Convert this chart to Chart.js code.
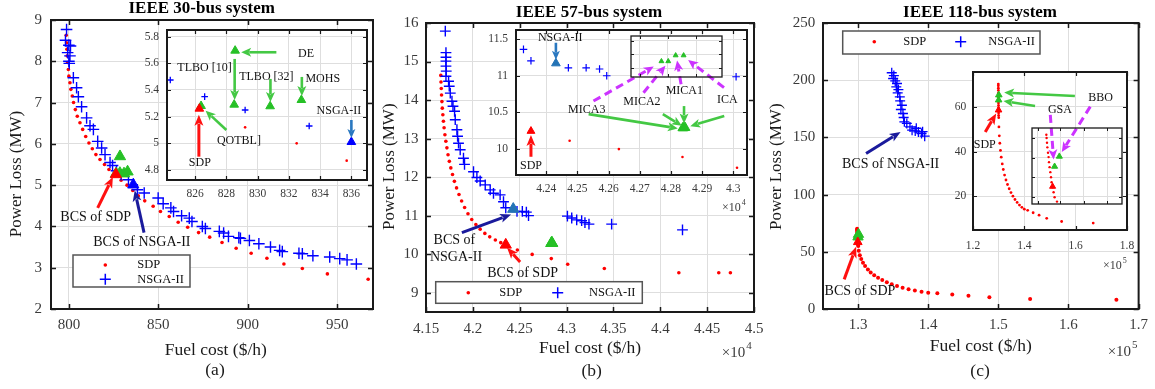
<!DOCTYPE html>
<html><head><meta charset="utf-8"><title>Pareto fronts - IEEE 30/57/118-bus</title>
<script src="https://cdn.jsdelivr.net/npm/chart.js@4.4.1/dist/chart.umd.min.js"></script>
<style>
html,body{margin:0;padding:0;background:#fff;}
#wrap{position:relative;width:1155px;height:389px;overflow:hidden;background:#fff;}
#wrap canvas{position:absolute;left:0;top:0;}
</style></head><body>
<div id="wrap">
<canvas id="aMain" width="1155" height="389"></canvas>
<canvas id="aInset" width="1155" height="389"></canvas>
<canvas id="bMain" width="1155" height="389"></canvas>
<canvas id="bInset" width="1155" height="389"></canvas>
<canvas id="bNest" width="1155" height="389"></canvas>
<canvas id="cMain" width="1155" height="389"></canvas>
<canvas id="cInset" width="1155" height="389"></canvas>
<canvas id="cNest" width="1155" height="389"></canvas>
</div>
<script>
// ================= DATA =================
const seriesNames = ['SDP', 'NSGA-II'];

// ---- (a) IEEE 30-bus ----
const aSdpCost = [798.5,798.7,798.9,799.1,799.3,799.7,800.0,800.6,801.1,801.9,802.6,803.6,804.7,806.2,807.7,809.4,811.2,813.1,815.1,817.4,819.9,822.4,829.2,832.5,835.7,838.8,842.4,847.1,851.2,856.1,861.1,866.4,872.5,878.7,885.6,893.5,901.9,910.7,920.2,930.5,944.5,967.3];
const aSdpLoss = [8.63,8.45,8.29,8.13,7.97,7.80,7.64,7.48,7.32,7.16,7.00,6.83,6.67,6.51,6.35,6.18,6.02,5.88,5.74,5.62,5.50,5.38,5.12,5.00,4.87,4.74,4.62,4.49,4.36,4.24,4.10,3.98,3.85,3.74,3.61,3.47,3.35,3.23,3.09,2.98,2.85,2.72];
const aNsgaCost = [798.7,798.1,800.0,799.3,800.6,800.9,800.0,800.2,802.5,804.3,805.3,807.1,809.9,811.8,813.7,816.1,818.3,820.2,823.0,824.41,826.61,829.2,833.3,838.3,842.1,849.9,852.7,857.0,858.5,863.0,867.3,868.8,874.6,876.3,884.1,886.5,889.2,895.0,895.9,900.9,906.2,912.7,917.8,919.3,928.6,930.5,936.4,945.8,951.4,955.5,960.7];
const aNsgaLoss = [8.77,8.51,8.39,8.21,8.13,8.37,8.00,7.95,7.60,7.36,7.14,6.90,6.63,6.44,6.35,6.06,5.90,5.74,5.55,5.475,5.35,5.25,5.13,4.89,4.81,4.69,4.55,4.45,4.36,4.26,4.20,4.12,4.00,3.95,3.88,3.84,3.76,3.73,3.71,3.66,3.58,3.50,3.42,3.39,3.35,3.34,3.29,3.26,3.22,3.19,3.09];
const aOtherNames = ['QOTBL', 'DE', 'TLBO [10]', 'TLBO [32]', 'MOHS'];
const aOtherCost = [826.38, 828.56, 828.5, 830.8, 832.8];
const aOtherLoss = [5.28, 5.695, 5.29, 5.278, 5.325];
const aBcsSdpCost = [826.27], aBcsSdpLoss = [5.26];
const aBcsNsgaCost = [836.0], aBcsNsgaLoss = [5.01];
const aXTicks = [800, 850, 900, 950], aYTicks = [2, 3, 4, 5, 6, 7, 8, 9];
const aInXTicks = [826, 828, 830, 832, 834, 836], aInYTicks = [4.8, 5.0, 5.2, 5.4, 5.6, 5.8];

// ---- (b) IEEE 57-bus ----
const bSdpCost = [41658,41660,41663,41666,41670,41674,41680,41686,41693,41702,41712,41723,41735,41749,41765,41783,41803,41826,41852,41880,41912,41948,41988,42032,42078,42128,42180,42240,42298,42475,42633,42837,43012,43403,44198,44624,44748];
const bSdpLoss = [14.64,14.47,14.30,14.13,13.96,13.79,13.62,13.45,13.28,13.10,12.93,12.76,12.58,12.41,12.24,12.07,11.89,11.72,11.55,11.38,11.21,11.05,10.90,10.77,10.65,10.54,10.45,10.37,10.30,10.109,9.995,9.886,9.74,9.63,9.52,9.52,9.52];
const bNsgaCost = [41706,41713,41713,41713,41713,41716,41713,41741,41748,41759,41777,41788,41805,41812,41830,41837,41847,41865,41900,41911,42007,42043,42078,42132,42185,42220,42291,42327,42351,42471,42528,42571,42594,43009,43055,43108,43161,43196,43239,43481,44237];
const bNsgaLoss = [15.79,15.23,15.11,15.01,14.88,14.75,14.62,14.49,14.36,14.18,13.97,13.84,13.71,13.49,13.23,13.06,12.88,12.71,12.49,12.33,12.14,11.99,11.90,11.80,11.67,11.58,11.54,11.363,11.206,11.110,11.110,11.093,11.001,10.987,10.94,10.89,10.87,10.82,10.78,10.78,10.63];
const bOtherNames = ['MICA3', 'MICA2', 'MICA1', 'ICA'];
const bOtherCost = [42837.7, 42840.1, 42842.7, 42845.5];
const bOtherLoss = [10.285, 10.285, 10.2893, 10.2893];
const bBcsSdpCost = [42351], bBcsSdpLoss = [10.242];
const bBcsNsgaCost = [42431], bBcsNsgaLoss = [11.171];
const bXTicks = [41500, 42000, 42500, 43000, 43500, 44000, 44500, 45000], bYTicks = [9, 10, 11, 12, 13, 14, 15, 16];
const bInXTicks = [42400, 42500, 42600, 42700, 42800, 42900, 43000], bInYTicks = [10, 10.5, 11, 11.5];
const bNestXTicks = [42830, 42840, 42850], bNestYTicks = [10.28, 10.29, 10.30];

// ---- (c) IEEE 118-bus ----
const cSdpCost = [129865,129869,129875,129880,129890,129899,129905,129914,129925,129935,129944,129959,129974,129989,130025,130100,130250,130450,130700,131000,131400,131800,132300,132850,133450,134100,134800,135550,136350,137200,138100,139050,140000,141300,143430,145740,148720,154530,166830];
const cSdpLoss = [70.10,69.35,68.30,67.27,66.05,65.09,63.96,62.84,61.72,60.60,59.47,58.35,57.23,56.10,55.14,51.0,47.0,43.7,40.5,37.5,34.5,32.0,29.5,27.3,25.3,23.4,21.7,20.1,18.6,17.3,16.1,15.1,14.3,13.8,12.7,11.6,10.2,8.8,8.1];
const cNsgaCost = [134800,135100,135000,135300,135550,135450,135750,135650,135950,136000,136250,136100,136400,136500,136600,136950,137400,137700,138150,138600,139050,139500,139200,138300];
const cNsgaLoss = [206.5,204.0,201.5,199.4,197.1,194.1,191.8,188.9,185.4,181.9,178.1,174.4,170.9,167.4,163.6,162.2,159.2,156.3,155.7,154.8,153.4,151.1,155.0,158.0];
const cOtherNames = ['GSA', 'BBO'];
const cOtherCost = [129989, 130060];
const cOtherLoss = [62.99, 65.24];
const cBcsSdpCost = [129959], cBcsSdpLoss = [58.51];
const cXTicks = [130000, 140000, 150000, 160000, 170000], cYTicks = [0, 50, 100, 150, 200, 250];
const cInXTicks = [120000, 140000, 160000, 180000], cInYTicks = [20, 40, 60];
const cNestXTicks = [129734, 130075, 130425, 130775], cNestYTicks = [56.2, 60.6, 65.0, 69.4];

// ================= STYLE / HELPERS =================
const W = 1155, H = 389, YW = 50, XH = 40;
const SERIF = '"Liberation Serif", "Times New Roman", Times, serif';
const RED = '#ff0000', BLUE = '#0000ff', GREEN = '#26c026', STEEL = '#2373b5';
const A_RED = { color: '#ff1010', width: 3, head: 11, hw: 9 };
const A_NAVY = { color: '#1a1a9c', width: 3, head: 11, hw: 9 };
const A_GREEN = { color: '#44c844', width: 2.6, head: 10, hw: 9 };
const A_STEEL = { color: '#2a78c0', width: 2.6, head: 9, hw: 8 };
const A_MAG = { color: '#cc33ff', width: 3, head: 10, hw: 9, dash: [8, 5] };
Chart.defaults.font.family = SERIF;

const P = (xs, ys) => xs.map((x, i) => ({ x, y: ys[i] }));
const dots = (label, xs, ys, r) => ({ label, data: P(xs, ys), pointStyle: 'circle', pointRadius: r, backgroundColor: RED, borderColor: RED, borderWidth: 0 });
const crosses = (label, xs, ys, r, w) => ({ label, data: P(xs, ys), pointStyle: 'cross', pointRadius: r, borderColor: BLUE, backgroundColor: BLUE, borderWidth: w });
const tris = (label, xs, ys, r, color) => ({ label, data: P(xs, ys), pointStyle: 'triangle', pointRadius: r, backgroundColor: color, borderColor: color, borderWidth: 1 });
const f1e4 = v => String(+(v / 1e4).toFixed(2));
const f1e5 = v => String(+(v / 1e5).toFixed(2));
const fnum = v => String(+v.toFixed(2));

function txt(ctx, t, x, y, size, bold, align, rot, color) {
  ctx.save(); ctx.translate(x, y); if (rot) ctx.rotate(rot);
  ctx.font = (bold ? 'bold ' : '') + size + 'px ' + SERIF;
  ctx.fillStyle = color || '#000'; ctx.textAlign = align || 'center'; ctx.textBaseline = 'middle';
  ctx.fillText(t, 0, 0); ctx.restore();
}
function arrow(ctx, x1, y1, x2, y2, s) {
  const ang = Math.atan2(y2 - y1, x2 - x1), c = Math.cos(ang), sn = Math.sin(ang);
  const bx = x2 - s.head * c, by = y2 - s.head * sn;
  ctx.save(); ctx.strokeStyle = s.color; ctx.fillStyle = s.color; ctx.lineWidth = s.width;
  ctx.setLineDash(s.dash || []);
  ctx.beginPath(); ctx.moveTo(x1, y1); ctx.lineTo(bx + 2 * c, by + 2 * sn); ctx.stroke();
  ctx.setLineDash([]);
  ctx.beginPath(); ctx.moveTo(x2, y2);
  ctx.lineTo(bx + s.hw / 2 * sn, by - s.hw / 2 * c);
  ctx.lineTo(bx + 0.25 * s.head * c, by + 0.25 * s.head * sn);
  ctx.lineTo(bx - s.hw / 2 * sn, by + s.hw / 2 * c);
  ctx.closePath(); ctx.fill(); ctx.restore();
}

const deco = {
  id: 'deco',
  beforeDraw(chart, args, o) {
    if (!o || !o.bg) return;
    const a = chart.chartArea, ctx = chart.ctx;
    ctx.save(); ctx.fillStyle = o.bg; ctx.fillRect(a.left, a.top, a.right - a.left, a.bottom - a.top); ctx.restore();
  },
  afterDraw(chart, args, o) {
    if (!o) return;
    const ctx = chart.ctx, a = chart.chartArea, xs = chart.scales.x, ys = chart.scales.y;
    const px = v => xs.getPixelForValue(v), py = v => ys.getPixelForValue(v);
    ctx.save();
    (o.arrows || []).forEach(r => arrow(ctx, px(r.from[0]), py(r.from[1]), px(r.to[0]), py(r.to[1]), r.style));
    (o.notes || []).forEach(n => txt(ctx, n.text, px(n.at[0]), py(n.at[1]), n.size || o.noteSize, false, 'center', 0, '#111'));
    if (o.frame) {
      const L = o.tickLen;
      ctx.strokeStyle = '#1a1a1a'; ctx.lineWidth = o.tickWidth; ctx.beginPath();
      xs.ticks.forEach(t => { const x = Math.round(px(t.value)) + 0.5; ctx.moveTo(x, a.bottom); ctx.lineTo(x, a.bottom - L); ctx.moveTo(x, a.top); ctx.lineTo(x, a.top + L); });
      ys.ticks.forEach(t => { const y = Math.round(py(t.value)) + 0.5; ctx.moveTo(a.left, y); ctx.lineTo(a.left + L, y); ctx.moveTo(a.right, y); ctx.lineTo(a.right - L, y); });
      ctx.stroke();
      ctx.lineWidth = o.frame; ctx.strokeRect(a.left, a.top, a.right - a.left, a.bottom - a.top);
    }
    if (o.legend) {
      const Lg = o.legend, x0 = a.left + Lg.x, y0 = a.top + Lg.y;
      ctx.fillStyle = '#fff'; ctx.fillRect(x0, y0, Lg.w, Lg.h);
      ctx.strokeStyle = '#555'; ctx.lineWidth = 1.5; ctx.strokeRect(x0, y0, Lg.w, Lg.h);
      Lg.items.forEach(it => {
        const mx = x0 + it.mx, my = y0 + it.my;
        if (it.kind === 'dot') { ctx.fillStyle = RED; ctx.beginPath(); ctx.arc(mx, my, 1.8, 0, Math.PI * 2); ctx.fill(); }
        else { ctx.strokeStyle = BLUE; ctx.lineWidth = 1.5; ctx.beginPath(); ctx.moveTo(mx - 5.5, my); ctx.lineTo(mx + 5.5, my); ctx.moveTo(mx, my - 5.5); ctx.lineTo(mx, my + 5.5); ctx.stroke(); }
        txt(ctx, it.label, x0 + it.tx, my, Lg.size, false, 'left', 0, '#111');
      });
    }
    (o.texts || []).forEach(t => {
      const bx = t.ax === 'l' ? a.left : t.ax === 'r' ? a.right : (a.left + a.right) / 2;
      const by = t.ay === 't' ? a.top : t.ay === 'b' ? a.bottom : (a.top + a.bottom) / 2;
      const x = bx + t.dx, y = by + t.dy;
      txt(ctx, t.t, x, y, t.size, t.bold, t.align || 'center', t.rot || 0, t.color || '#1a1a1a');
      if (t.sup) {
        ctx.font = t.size + 'px ' + SERIF;
        const w = ctx.measureText(t.t).width;
        txt(ctx, t.sup, x + w + 1, y - t.size * 0.45, Math.round(t.size * 0.7), false, 'left', 0, t.color || '#1a1a1a');
      }
    });
    ctx.restore();
  }
};

function makeChart(id, cfg) {
  const b = cfg.box;
  const axis = (ax, isX) => ({
    type: 'linear', min: ax.min, max: ax.max,
    afterBuildTicks: s => { s.ticks = ax.ticks.map(v => ({ value: v })); },
    afterFit: s => { if (isX) s.height = XH; else s.width = YW; },
    grid: { display: true, color: '#dedede', lineWidth: 1, drawTicks: false },
    border: { display: false },
    ticks: { display: !!ax.size, padding: ax.pad || 0, autoSkip: false, maxRotation: 0, minRotation: 0,
      color: '#3a3a3a', font: { family: SERIF, size: ax.size || 10 }, callback: ax.fmt || fnum }
  });
  return new Chart(document.getElementById(id), {
    type: 'scatter',
    data: { datasets: cfg.datasets },
    options: {
      responsive: false, animation: false, events: [],
      layout: { padding: { left: b.l - YW, top: b.t, right: W - b.r, bottom: H - b.b - XH } },
      plugins: { legend: { display: false }, tooltip: { enabled: false }, deco: cfg.deco },
      scales: { x: axis(cfg.x, true), y: axis(cfg.y, false) }
    },
    plugins: [deco]
  });
}

// ================= PANEL (a) =================
makeChart('aMain', {
  box: { l: 51, t: 20, r: 373, b: 309 },
  x: { min: 790, max: 970, ticks: aXTicks, size: 15, pad: 7 },
  y: { min: 2, max: 9, ticks: aYTicks, size: 15, pad: 9 },
  datasets: [
    tris('BCS NSGA-II', aBcsNsgaCost, aBcsNsgaLoss, 6.5, BLUE),
    tris('BCS SDP', aBcsSdpCost, aBcsSdpLoss, 6.5, RED),
    tris('Others', aOtherCost, aOtherLoss, 6.5, GREEN),
    crosses(seriesNames[1], aNsgaCost, aNsgaLoss, 5.8, 1.4),
    dots(seriesNames[0], aSdpCost, aSdpLoss, 1.8)
  ],
  deco: {
    frame: 2, tickLen: 5, tickWidth: 1.5, noteSize: 14,
    arrows: [
      { from: [816.1, 4.45], to: [824.6, 5.20], style: A_RED },
      { from: [842.0, 3.85], to: [836.8, 4.87], style: A_NAVY }
    ],
    notes: [
      { text: 'BCS of SDP', at: [815, 4.23] },
      { text: 'BCS of NSGA-II', at: [840.8, 3.61] }
    ],
    legend: { x: 22, y: 235, w: 117, h: 32, size: 12.5, items: [
      { kind: 'dot', label: seriesNames[0], mx: 32.3, my: 10, tx: 64.3 },
      { kind: 'cross', label: seriesNames[1], mx: 32.3, my: 24.3, tx: 64.3 }
    ] },
    texts: [
      { t: 'IEEE 30-bus system', size: 17, bold: true, ax: 'c', dx: -10.3, ay: 't', dy: -11.7, color: '#000' },
      { t: 'Fuel cost ($/h)', size: 17.5, ax: 'c', dx: 3.8, ay: 'b', dy: 41 },
      { t: '(a)', size: 17.5, ax: 'c', dx: 3, ay: 'b', dy: 61 },
      { t: 'Power Loss (MW)', size: 17, ax: 'l', dx: -34.3, ay: 'c', dy: 9.5, rot: -Math.PI / 2 }
    ]
  }
});
makeChart('aInset', {
  box: { l: 167, t: 30, r: 367, b: 180 },
  x: { min: 824.2, max: 837, ticks: aInXTicks, size: 11.5, pad: 7.4 },
  y: { min: 4.725, max: 5.85, ticks: aInYTicks, size: 11.5, pad: 8 },
  datasets: [
    tris('BCS NSGA-II', aBcsNsgaCost, aBcsNsgaLoss, 5, BLUE),
    tris('BCS SDP', aBcsSdpCost, aBcsSdpLoss, 5, RED),
    tris('Others', aOtherCost, aOtherLoss, 5, GREEN),
    crosses(seriesNames[1], aNsgaCost, aNsgaLoss, 3.3, 1.3),
    dots(seriesNames[0], aSdpCost, aSdpLoss, 1.3)
  ],
  deco: {
    bg: '#fff', frame: 2, tickLen: 4, tickWidth: 1.2, noteSize: 12,
    arrows: [
      { from: [831.2, 5.683], to: [828.95, 5.683], style: A_GREEN },
      { from: [828.53, 5.633], to: [828.53, 5.325], style: A_GREEN },
      { from: [830.82, 5.483], to: [830.82, 5.31], style: A_GREEN },
      { from: [832.83, 5.498], to: [832.83, 5.355], style: A_GREEN },
      { from: [836.0, 5.175], to: [836.0, 5.04], style: A_STEEL },
      { from: [828.0, 5.10], to: [826.67, 5.245], style: A_GREEN },
      { from: [826.24, 4.90], to: [826.24, 5.215], style: A_RED }
    ],
    notes: [
      { text: aOtherNames[1], at: [833.1, 5.67] },
      { text: aOtherNames[2], at: [826.6, 5.567] },
      { text: aOtherNames[3], at: [830.56, 5.498] },
      { text: aOtherNames[4], at: [834.17, 5.485] },
      { text: seriesNames[1], at: [835.2, 5.243] },
      { text: aOtherNames[0] + ']', at: [828.8, 5.017] },
      { text: seriesNames[0], at: [826.3, 4.853] }
    ]
  }
});

// ================= PANEL (b) =================
makeChart('bMain', {
  box: { l: 426, t: 23, r: 754, b: 312 },
  x: { min: 41500, max: 45000, ticks: bXTicks, size: 15, pad: 7.6, fmt: f1e4 },
  y: { min: 8.5, max: 16, ticks: bYTicks, size: 15, pad: 7.4 },
  datasets: [
    tris('BCS NSGA-II', bBcsNsgaCost, bBcsNsgaLoss, 6.5, STEEL),
    tris('BCS SDP', bBcsSdpCost, bBcsSdpLoss, 6.5, RED),
    tris('Others', bOtherCost, bOtherLoss, 6.5, GREEN),
    crosses(seriesNames[1], bNsgaCost, bNsgaLoss, 5.4, 1.4),
    dots(seriesNames[0], bSdpCost, bSdpLoss, 1.8)
  ],
  deco: {
    frame: 2, tickLen: 5, tickWidth: 1.5, noteSize: 14,
    arrows: [
      { from: [41883, 10.56], to: [42408, 11.03], style: A_NAVY },
      { from: [42504, 9.80], to: [42365, 10.17], style: A_RED }
    ],
    notes: [
      { text: 'BCS of', at: [41803, 10.36] },
      { text: 'NSGA-II', at: [41820, 9.91] },
      { text: 'BCS of SDP', at: [42531, 9.51] }
    ],
    legend: { x: 9.7, y: 258.7, w: 206.6, h: 21.6, size: 12.5, items: [
      { kind: 'dot', label: seriesNames[0], mx: 32.6, my: 11, tx: 63.6 },
      { kind: 'cross', label: seriesNames[1], mx: 122, my: 11, tx: 153.3 }
    ] },
    texts: [
      { t: 'IEEE 57-bus system', size: 17, bold: true, ax: 'c', dx: -1, ay: 't', dy: -10.3, color: '#000' },
      { t: 'Fuel cost ($/h)', size: 17.5, ax: 'c', dx: 0, ay: 'b', dy: 36.3 },
      { t: '(b)', size: 17.5, ax: 'c', dx: 1.7, ay: 'b', dy: 59.7 },
      { t: 'Power Loss (MW)', size: 17, ax: 'l', dx: -36, ay: 'c', dy: -0.8, rot: -Math.PI / 2 },
      { t: '\u00d710', sup: '4', size: 15, ax: 'r', dx: -32.3, ay: 'b', dy: 40.7, align: 'left', color: '#3a3a3a' }
    ]
  }
});
makeChart('bInset', {
  box: { l: 516, t: 30, r: 747, b: 175 },
  x: { min: 42303, max: 43044, ticks: bInXTicks, size: 11.5, pad: 7.4, fmt: f1e4 },
  y: { min: 9.64, max: 11.628, ticks: bInYTicks, size: 11.5, pad: 8 },
  datasets: [
    tris('BCS NSGA-II', bBcsNsgaCost, bBcsNsgaLoss, 5, STEEL),
    tris('BCS SDP', bBcsSdpCost, bBcsSdpLoss, 4.5, RED),
    tris('Others', bOtherCost, bOtherLoss, 5.5, GREEN),
    crosses(seriesNames[1], bNsgaCost, bNsgaLoss, 3.8, 1.2),
    dots(seriesNames[0], bSdpCost, bSdpLoss, 1.3)
  ],
  deco: {
    bg: '#fff', frame: 2, tickLen: 4, tickWidth: 1.2, noteSize: 12,
    arrows: [
      { from: [42431, 11.453], to: [42431, 11.22], style: A_STEEL },
      { from: [42351, 9.89], to: [42351, 10.19], style: A_RED },
      { from: [42536, 10.475], to: [42822, 10.279], style: A_GREEN },
      { from: [42774, 10.475], to: [42835, 10.315], style: A_GREEN },
      { from: [42842, 10.585], to: [42842, 10.345], style: A_GREEN },
      { from: [42971, 10.448], to: [42862, 10.31], style: A_GREEN }
    ],
    notes: [
      { text: seriesNames[1], at: [42445, 11.514] },
      { text: seriesNames[0], at: [42351, 9.762] },
      { text: bOtherNames[0], at: [42530, 10.54] },
      { text: bOtherNames[1], at: [42707, 10.644] },
      { text: bOtherNames[2], at: [42843, 10.80] },
      { text: bOtherNames[3], at: [42981, 10.677] }
    ],
    texts: [
      { t: '\u00d710', sup: '4', size: 12, ax: 'r', dx: -25, ay: 'b', dy: 33.3, align: 'left', color: '#3a3a3a' }
    ]
  }
});
makeChart('bNest', {
  box: { l: 631, t: 36, r: 722, b: 77 },
  x: { min: 42827, max: 42859, ticks: bNestXTicks },
  y: { min: 10.2735, max: 10.3035, ticks: bNestYTicks },
  datasets: [ tris('Others', bOtherCost, bOtherLoss, 2.8, GREEN) ],
  deco: {
    bg: '#fff', frame: 1.3, tickLen: 3, tickWidth: 1,
    arrows: [
      { from: [42813.8, 10.2559], to: [42835.0, 10.2811], style: A_MAG },
      { from: [42831.4, 10.2620], to: [42839.1, 10.2818], style: A_MAG },
      { from: [42844.6, 10.2682], to: [42843.2, 10.2855], style: A_MAG },
      { from: [42859.7, 10.2657], to: [42847.1, 10.2860], style: A_MAG }
    ]
  }
});

// ================= PANEL (c) =================
makeChart('cMain', {
  box: { l: 823, t: 23, r: 1140, b: 309 },
  x: { min: 125000, max: 170000, ticks: cXTicks, size: 15, pad: 7, fmt: f1e5 },
  y: { min: 0, max: 250, ticks: cYTicks, size: 15, pad: 7.7 },
  datasets: [
    tris('BCS SDP', cBcsSdpCost, cBcsSdpLoss, 5, RED),
    tris('Others', cOtherCost, cOtherLoss, 6, GREEN),
    crosses(seriesNames[1], cNsgaCost, cNsgaLoss, 5, 1.3),
    dots(seriesNames[0], cSdpCost, cSdpLoss, 2)
  ],
  deco: {
    frame: 2, tickLen: 5, tickWidth: 1.5, noteSize: 14,
    arrows: [
      { from: [131140, 136.0], to: [136060, 154.8], style: A_NAVY },
      { from: [128020, 25.9], to: [129720, 54.4], style: A_RED }
    ],
    notes: [
      { text: 'BCS of NSGA-II', at: [134640, 126.4] },
      { text: 'BCS of SDP', at: [130270, 15.7] }
    ],
    legend: { x: 19.7, y: 8, w: 197.3, h: 23, size: 12.5, items: [
      { kind: 'dot', label: seriesNames[0], mx: 31.6, my: 10.7, tx: 60.6 },
      { kind: 'cross', label: seriesNames[1], mx: 118, my: 10.7, tx: 145.6 }
    ] },
    texts: [
      { t: 'IEEE 118-bus system', size: 17, bold: true, ax: 'c', dx: -0.8, ay: 't', dy: -10.3, color: '#000' },
      { t: 'Fuel cost ($/h)', size: 17.5, ax: 'c', dx: 0, ay: 'b', dy: 37.7 },
      { t: '(c)', size: 17.5, ax: 'c', dx: -0.8, ay: 'b', dy: 62.7 },
      { t: 'Power Loss (MW)', size: 17, ax: 'l', dx: -46, ay: 'c', dy: 0.7, rot: -Math.PI / 2 },
      { t: '\u00d710', sup: '5', size: 15, ax: 'r', dx: -31, ay: 'b', dy: 42.7, align: 'left', color: '#3a3a3a' }
    ]
  }
});
makeChart('cInset', {
  box: { l: 973, t: 72, r: 1127, b: 230 },
  x: { min: 120000, max: 180000, ticks: cInXTicks, size: 11.5, pad: 8.8, fmt: f1e5 },
  y: { min: 5, max: 75.5, ticks: cInYTicks, size: 11.5, pad: 6.7 },
  datasets: [
    tris('BCS SDP', cBcsSdpCost, cBcsSdpLoss, 3.8, RED),
    tris('Others', cOtherCost, cOtherLoss, 3.8, GREEN),
    dots(seriesNames[0], cSdpCost, cSdpLoss, 1.4)
  ],
  deco: {
    bg: '#fff', frame: 2, tickLen: 4, tickWidth: 1.2, noteSize: 12,
    arrows: [
      { from: [159692, 64.8], to: [132144, 66.3], style: A_GREEN },
      { from: [144172, 60.36], to: [131873, 62.6], style: A_GREEN },
      { from: [124772, 48.77], to: [129040, 56.97], style: A_RED }
    ],
    notes: [
      { text: cOtherNames[1], at: [169664, 63.9] },
      { text: cOtherNames[0], at: [153872, 58.4] },
      { text: seriesNames[0], at: [124578, 42.85] }
    ],
    texts: [
      { t: '\u00d710', sup: '5', size: 12, ax: 'r', dx: -24, ay: 'b', dy: 36, align: 'left', color: '#3a3a3a' }
    ]
  }
});
makeChart('cNest', {
  box: { l: 1032, t: 128, r: 1122, b: 204 },
  x: { min: 129650, max: 131000, ticks: cNestXTicks },
  y: { min: 54.6, max: 71.6, ticks: cNestYTicks },
  datasets: [
    tris('BCS SDP', cBcsSdpCost, cBcsSdpLoss, 3.5, RED),
    tris('Others', cOtherCost, cOtherLoss, 3.5, GREEN),
    dots(seriesNames[0], cSdpCost, cSdpLoss, 1.2)
  ],
  deco: {
    bg: '#fff', frame: 1.3, tickLen: 3, tickWidth: 1,
    arrows: [
      { from: [129924.5, 74.52], to: [129974, 64.57], style: A_MAG },
      { from: [130524, 76.38], to: [130097, 66.21], style: A_MAG }
    ]
  }
});
</script>
</body></html>
